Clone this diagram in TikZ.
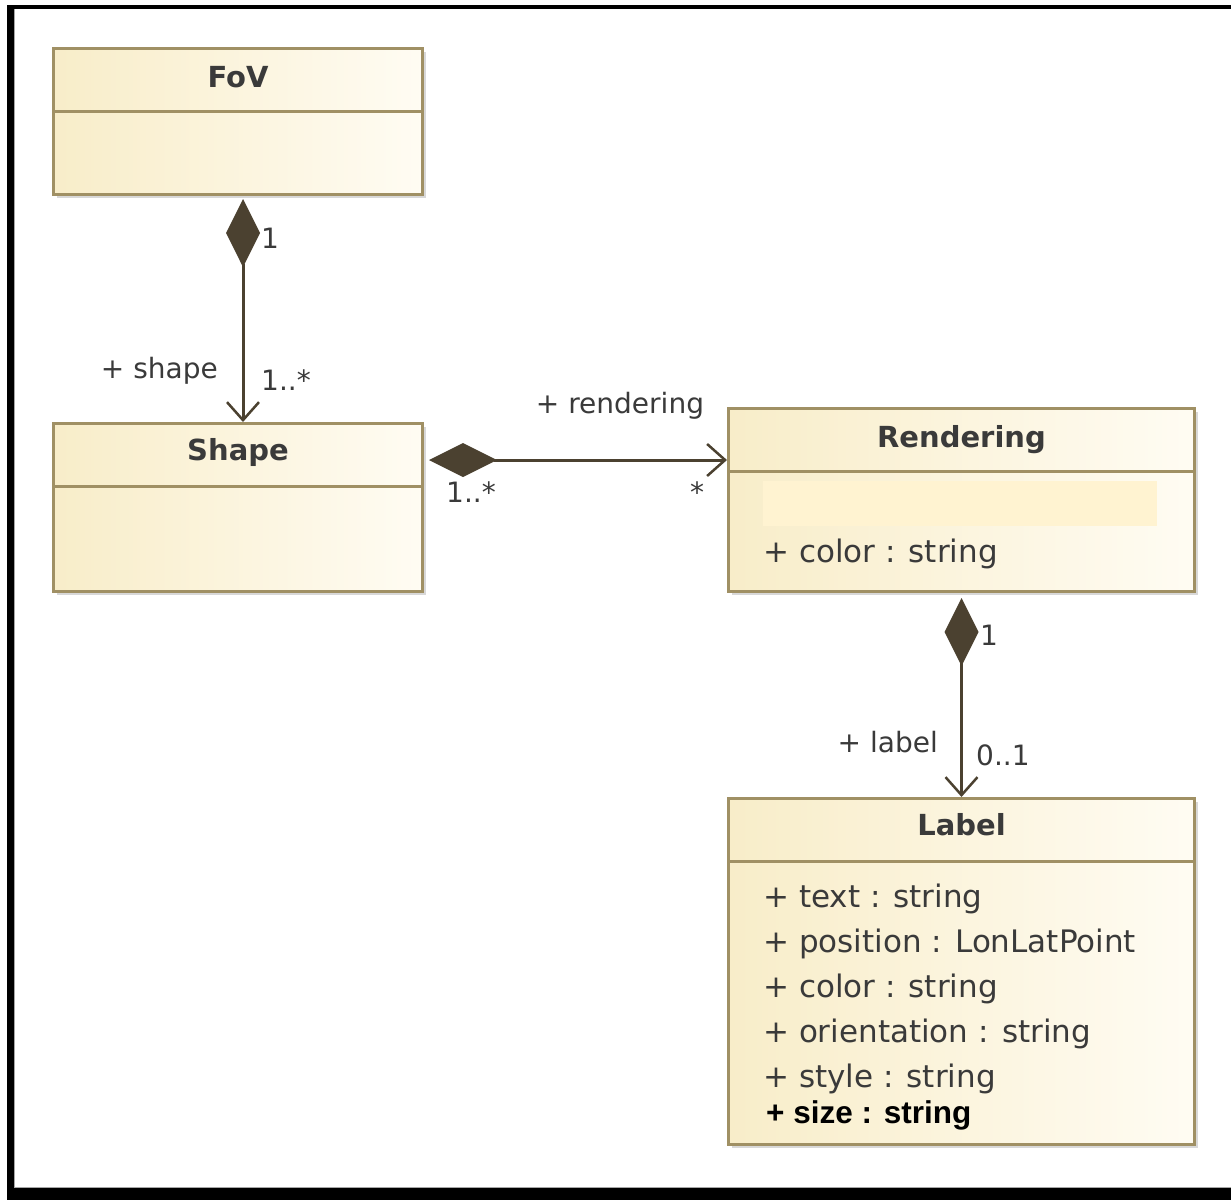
\documentclass[tikz,border=0pt]{standalone}
\usepackage{fontspec}
\setmainfont{DejaVu Sans}
\newfontfamily\addfont{Liberation Sans}
\usetikzlibrary{arrows.meta,shadows,calc}
\definecolor{boxborder}{RGB}{160,144,100}
\definecolor{boxleft}{RGB}{248,237,201}
\definecolor{boxright}{RGB}{255,252,243}
\definecolor{linkcol}{RGB}{75,65,48}
\definecolor{txt}{RGB}{58,58,58}
\definecolor{coverbar}{RGB}{255,243,209}
\tikzset{
  umlbox/.style={draw=boxborder, line width=3pt, rectangle, inner sep=0pt,
    left color=boxleft, right color=boxright, anchor=north west,
    drop shadow={shadow xshift=3pt, shadow yshift=-3pt, opacity=0.25, fill=black!60}},
  divline/.style={draw=boxborder, line width=3pt},
  classtitle/.style={inner sep=0pt, anchor=base, text=txt, font=\fontsize{29}{34}\selectfont\bfseries},
  attr/.style={inner sep=0pt, anchor=base west, text=txt, font=\fontsize{31}{36}\selectfont},
  newattr/.style={inner sep=0pt, anchor=base west, text=black, font=\addfont\fontsize{31.5}{36}\selectfont\bfseries},
  rolelab/.style={inner sep=0pt, text=txt, font=\fontsize{28}{33}\selectfont},
  compo/.style={draw=linkcol, line width=3pt,
    {Diamond[length=68pt,width=34pt,fill=linkcol]}-{Straight Barb[length=18pt,width=32pt,line width=2.5pt]}},
}
\begin{document}
\begin{tikzpicture}[x=1pt,y=-1pt]
\useasboundingbox (0,0) rectangle (1231,1200);
% frame
\fill[white] (0,0) rectangle (1231,1200);
\fill[black] (7,5) rectangle (1231,9);
\fill[black] (7,5) rectangle (14,1200);
\fill[black] (7,1188) rectangle (1231,1200);
\draw[gray!70, line width=1pt] (14.5,9) -- (14.5,1187.5) -- (1231,1187.5);

% classes
\node[umlbox, minimum width=369pt, minimum height=146pt] (fov) at (52,47) {};
\node[umlbox, minimum width=369pt, minimum height=168pt] (shape) at (52,422) {};
\node[umlbox, minimum width=466pt, minimum height=183pt] (rendering) at (727,407) {};
\node[umlbox, minimum width=466pt, minimum height=346pt] (label) at (727,797) {};

\foreach \b in {fov,shape,rendering,label}{
  \draw[divline] ([yshift=-64pt]\b.north west) -- ([yshift=-64pt]\b.north east);
}

\node[classtitle] (fovt) at ([yshift=-40pt]fov.north) {FoV};
\node[classtitle] (shapet) at ([yshift=-38pt]shape.north) {Shape};
\node[classtitle] (rendt) at ([yshift=-40pt]rendering.north) {Rendering};
\node[classtitle] (labt) at ([yshift=-38pt]label.north) {Label};

% rendering attributes
\fill[coverbar] (763,481) rectangle (1157,526);
\node[attr] (rcolor) at (763,562) {+ color : string};

% label attributes
\node[attr] (a1) at (763,907) {+ text : string};
\node[attr] (a2) at (763,952) {+ position : LonLatPoint};
\node[attr] (a3) at (763,997) {+ color : string};
\node[attr] (a4) at (763,1042) {+ orientation : string};
\node[attr] (a5) at (763,1087) {+ style : string};
\node[newattr] (a6) at (766,1123) {+ size : string};

% connectors
\draw[compo, shorten <=3pt] ([xshift=5pt]fov.south) -- ([xshift=5pt]shape.north);
\draw[compo, shorten <=5pt] ([yshift=-38pt]shape.north east) -- ([yshift=-38pt]shape.north east -| rendering.west);
\draw[compo, shorten <=5pt] (rendering.south) -- (label.north);

% role and multiplicity labels
\node[rolelab, anchor=base west] (m1) at (261,248) {1};
\node[rolelab, anchor=base east] (rshape) at (218,378) {+ shape};
\node[rolelab, anchor=base west] (m2) at (261,390) {1..*};
\node[rolelab, anchor=base] (rrend) at (620,413) {+ rendering};
\node[rolelab, anchor=base west] (m3) at (446,502) {1..*};
\node[rolelab, anchor=base] (m4) at (697,502) {*};
\node[rolelab, anchor=base west] (m5) at (980,645) {1};
\node[rolelab, anchor=base east] (rlabel) at (938,752) {+ label};
\node[rolelab, anchor=base west] (m6) at (976,765) {0..1};
\end{tikzpicture}
\end{document}
